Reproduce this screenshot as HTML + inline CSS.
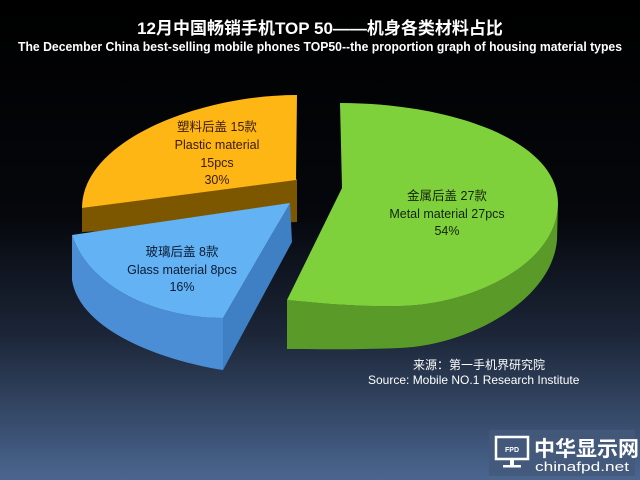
<!DOCTYPE html>
<html><head><meta charset="utf-8"><style>
html,body{margin:0;padding:0;width:640px;height:480px;overflow:hidden;background:#000}
</style></head><body>
<svg width="640" height="480" xmlns="http://www.w3.org/2000/svg">
<defs>
<linearGradient id="bg" x1="0" y1="0" x2="0" y2="1">
<stop offset="0" stop-color="#000"/><stop offset="0.45" stop-color="#05070c"/>
<stop offset="0.7" stop-color="#1c2638"/><stop offset="1" stop-color="#4a6690"/>
</linearGradient>
</defs>
<rect width="640" height="480" fill="url(#bg)"/>
<g font-family="Liberation Sans, Noto Sans CJK SC, sans-serif" fill="#fff" font-weight="bold" text-anchor="middle">
<text x="320" y="34" font-size="17">12月中国畅销手机TOP 50——机身各类材料占比</text>
<text x="320" y="51" font-size="12.5" textLength="604" lengthAdjust="spacingAndGlyphs">The December China best-selling mobile phones TOP50--the proportion graph of housing material types</text>
</g>
<!-- green -->
<path d="M287,300 C310,302 350,307 400,306 C470,305 558,265 558,203 L557,240 C552,300 470,345 400,348 C350,350 310,349 287,349 Z" fill="#5a9a28"/>
<path d="M342,188 L340,103 C450,103 558,140 558,203 C558,265 470,305 400,306 C350,307 310,302 287,300 Z" fill="#7fd13b"/>
<!-- orange -->
<path d="M82,208 L297,179 L297,222 L82,232 Z" fill="#7d5700"/>
<path d="M296,180 L297,95 C200,95 82,140 82,208 Z" fill="#fdb614"/>
<!-- blue -->
<path d="M72,235 C90,290 160,318 223,318 L223,370 C160,360 80,330 72,280 Z" fill="#4b8ed6"/>
<path d="M290,203 L223,318 L223,370 L292,242 Z" fill="#3f7fc4"/>
<path d="M290,203 L72,235 C90,290 160,318 223,318 Z" fill="#62b2f4"/>
<g font-family="Liberation Sans, Noto Sans CJK SC, sans-serif" font-size="12.5" text-anchor="middle" fill="#3a1a0c">
<text x="217" y="131">塑料后盖 15款</text>
<text x="217" y="149">Plastic material</text>
<text x="217" y="167">15pcs</text>
<text x="217" y="184">30%</text>
</g>
<g font-family="Liberation Sans, Noto Sans CJK SC, sans-serif" font-size="12.5" text-anchor="middle" fill="#13240a">
<text x="447" y="200">金属后盖 27款</text>
<text x="447" y="218">Metal material 27pcs</text>
<text x="447" y="235">54%</text>
</g>
<g font-family="Liberation Sans, Noto Sans CJK SC, sans-serif" font-size="12.5" text-anchor="middle" fill="#0c1a33">
<text x="182" y="256">玻璃后盖 8款</text>
<text x="182" y="274">Glass material 8pcs</text>
<text x="182" y="291">16%</text>
</g>
<g font-family="Liberation Sans, Noto Sans CJK SC, sans-serif" font-size="12" fill="#fff">
<text x="413" y="369">来源：第一手机界研究院</text>
<text x="368" y="384">Source: Mobile NO.1 Research Institute</text>
</g>
<rect x="489" y="430" width="146" height="46" fill="#44597a" opacity="0.85"/>
<rect x="496" y="437" width="32" height="22" fill="none" stroke="#fff" stroke-width="2.5"/>
<text x="512" y="452" font-family="Liberation Sans, sans-serif" font-size="7" font-weight="bold" fill="#fff" text-anchor="middle">FPD</text>
<rect x="510" y="460" width="4" height="5" fill="#fff"/>
<rect x="503" y="465" width="18" height="2.5" fill="#fff"/>
<text x="534" y="456" font-family="Noto Sans CJK SC, sans-serif" font-size="21" font-weight="bold" fill="#fff">中华显示网</text>
<text x="535" y="471" font-family="Liberation Sans, sans-serif" font-size="13" fill="#fff" textLength="94" lengthAdjust="spacingAndGlyphs">chinafpd.net</text>
</svg>
</body></html>
